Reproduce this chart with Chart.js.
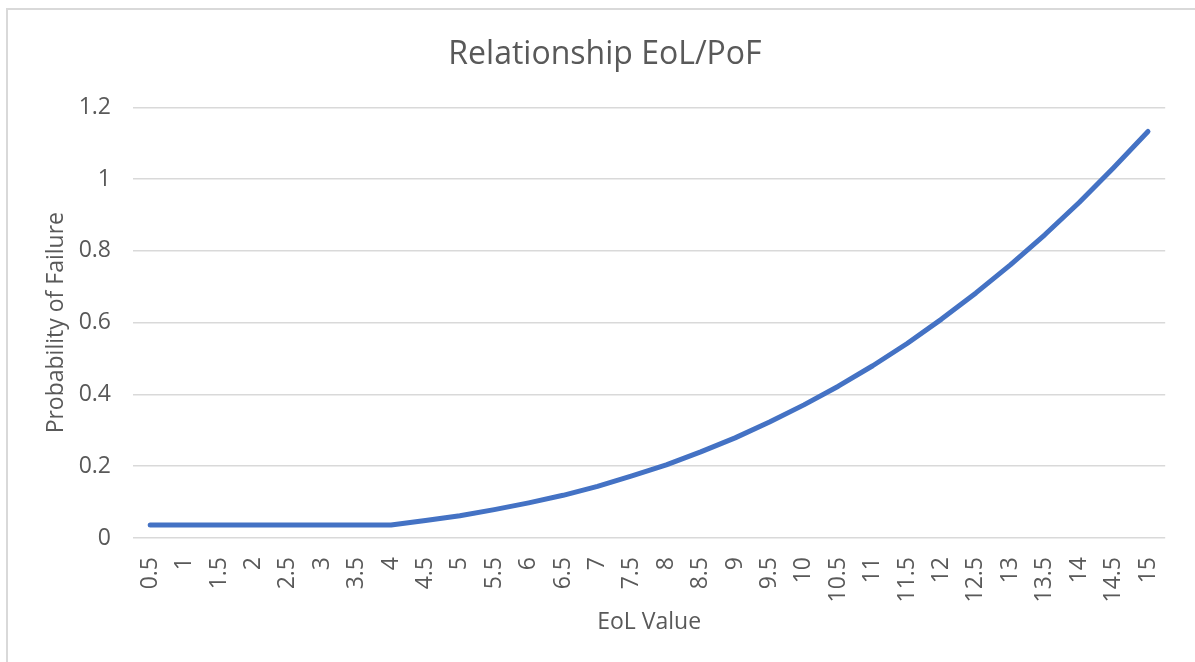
<!DOCTYPE html>
<html>
<head>
<meta charset="utf-8">
<script src="https://cdn.jsdelivr.net/npm/chart.js@4.4.1/dist/chart.umd.min.js"></script>
<style>
    body { margin: 0; background: #fff; overflow: hidden; }
    #frame {
        position: absolute; left: 6px; top: 8px; width: 1200px; height: 670px;
        border-left: 2px solid #d9d9d9; border-top: 2px solid #d9d9d9;
    }
    #pofChart { position: absolute; left: 0; top: 0; }
</style>
</head>
<body>
<div id="frame"></div>
<canvas id="pofChart" width="1195" height="662"></canvas>
<script>
// EoL values on the x axis
const eolValues = ['0.5', '1', '1.5', '2', '2.5', '3', '3.5', '4', '4.5', '5', '5.5', '6', '6.5', '7', '7.5',
    '8', '8.5', '9', '9.5', '10', '10.5', '11', '11.5', '12', '12.5', '13', '13.5', '14', '14.5', '15'];

// probability of failure
const pofValues = [0.036, 0.036, 0.036, 0.036, 0.036, 0.036, 0.036, 0.036, 0.049, 0.062, 0.079, 0.098, 0.119, 0.144, 0.173,
    0.204, 0.240, 0.279, 0.323, 0.371, 0.423, 0.480, 0.542, 0.610, 0.683, 0.761, 0.845, 0.935, 1.032, 1.133];

const yTicks = [0, 0.2, 0.4, 0.6, 0.8, 1, 1.2];

const textColor = '#595959';
const fontFamily = "'Open Sans', 'Liberation Sans', sans-serif";

function createChart() {
    const ctx = document.getElementById('pofChart').getContext('2d');
    new Chart(ctx, {
        type: 'line',
        data: {
            labels: eolValues,
            datasets: [{
                label: 'PoF',
                data: pofValues,
                borderColor: '#4472C4',
                borderWidth: 5,
                borderCapStyle: 'round',
                borderJoinStyle: 'round',
                pointRadius: 0,
                tension: 0,
                fill: false
            }]
        },
        options: {
            responsive: false,
            animation: false,
            layout: {
                padding: { left: 40, right: 25, top: 0, bottom: 0 }
            },
            plugins: {
                legend: { display: false },
                tooltip: { enabled: false },
                title: {
                    display: true,
                    text: 'Relationship EoL/PoF',
                    color: textColor,
                    font: { family: fontFamily, size: 32, weight: 'normal' },
                    padding: { top: 36, bottom: 33 }
                }
            },
            scales: {
                x: {
                    offset: true,
                    grid: { display: false, drawTicks: false },
                    border: { display: false },
                    ticks: {
                        color: textColor,
                        font: { family: fontFamily, size: 23 },
                        minRotation: 90,
                        maxRotation: 90,
                        autoSkip: false,
                        padding: 19
                    },
                    title: {
                        display: true,
                        text: 'EoL Value',
                        color: textColor,
                        font: { family: fontFamily, size: 23 },
                        padding: { top: 0, bottom: 26 }
                    },
                    afterFit: scale => { scale.height = 124; }
                },
                y: {
                    min: 0,
                    max: 1.2,
                    afterBuildTicks: scale => { scale.ticks = yTicks.map(v => ({ value: v })); },
                    grid: { color: '#d9d9d9', lineWidth: 1.5, drawTicks: false },
                    border: { display: false },
                    ticks: {
                        color: textColor,
                        font: { family: fontFamily, size: 23 },
                        padding: 22,
                        callback: v => String(+v.toFixed(1))
                    },
                    title: {
                        display: true,
                        text: 'Probability of Failure',
                        color: textColor,
                        font: { family: fontFamily, size: 23 },
                        padding: { top: 3, bottom: 0 }
                    },
                    afterFit: scale => { scale.width = 93; }
                }
            }
        }
    });
}

createChart();
</script>
</body>
</html>
